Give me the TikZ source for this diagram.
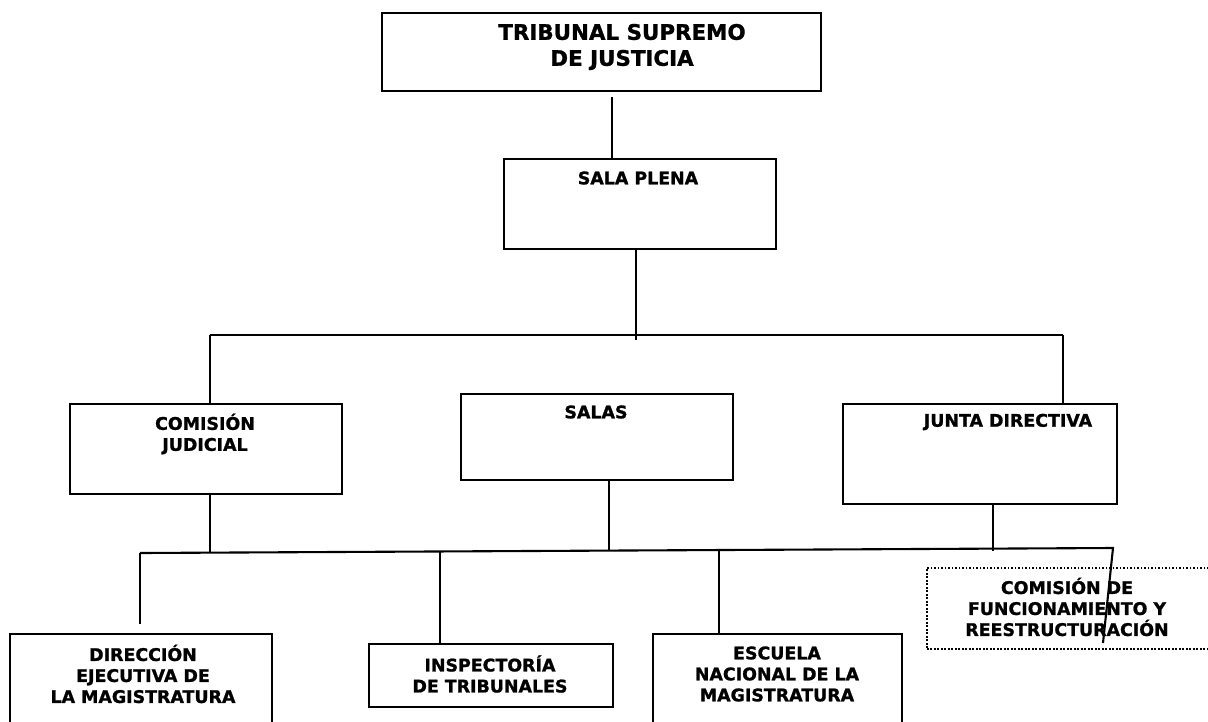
\documentclass[tikz,border=0pt]{standalone}
\usepackage{fontspec}
\setmainfont{DejaVu Sans}[BoldFeatures={FakeBold=1.2}]
\begin{document}
\begin{tikzpicture}[x=1pt,y=-1pt,
  box/.style={draw, line width=2.1pt, rectangle, inner sep=0pt, anchor=north west},
  dotbox/.style={draw, line width=1.8pt, dash pattern=on 1.8pt off 1.7pt, rectangle, inner sep=0pt, anchor=north west},
  conn/.style={line width=2.1pt},
  lbl/.style={font=\bfseries\fontsize{17.4}{21}\selectfont, align=center, inner sep=0pt},
  big/.style={font=\bfseries\fontsize{21.4}{26}\selectfont, align=center, inner sep=0pt}]
\path[use as bounding box] (0,0) rectangle (1208,721);
\clip (0,0) rectangle (1208,721);

% boxes
\node[box, minimum width=439pt, minimum height=78pt] (tsj) at (381,12) {};
\node[big] (tsjt) at (622,47) {TRIBUNAL SUPREMO\\DE JUSTICIA};
\node[box, minimum width=272pt, minimum height=90pt] (sp) at (503,158) {};
\node[lbl] (spt) at (638,178) {SALA PLENA};
\node[box, minimum width=272pt, minimum height=90pt] (cj) at (69,403) {};
\node[lbl] (cjt) at (205,434) {COMISIÓN\\JUDICIAL};
\node[box, minimum width=272pt, minimum height=86pt] (sa) at (460,393) {};
\node[lbl] (sat) at (596,412) {SALAS};
\node[box, minimum width=274pt, minimum height=100pt] (jd) at (842,403) {};
\node[lbl] (jdt) at (1008,422) {JUNTA DIRECTIVA};
\node[box, minimum width=262pt, minimum height=110pt] (dea) at (9,633) {};
\node[lbl] (deat) at (143,674) {DIRECCIÓN\\EJECUTIVA DE\\LA MAGISTRATURA};
\node[box, minimum width=244pt, minimum height=63pt] (it) at (368,643) {};
\node[lbl] (itt) at (490,674) {INSPECTORÍA\\DE TRIBUNALES};
\node[box, minimum width=249pt, minimum height=110pt] (enm) at (652,633) {};
\node[lbl] (enmt) at (777,674) {ESCUELA\\NACIONAL DE LA\\MAGISTRATURA};
\node[dotbox, minimum width=300pt, minimum height=81pt] (cfr) at (926,567) {};
\node[lbl] (cfrt) at (1067,607) {COMISIÓN DE\\FUNCIONAMIENTO Y\\REESTRUCTURACIÓN};

% top connectors
\coordinate (a1) at (612,97);
\draw[conn] (a1) -- (a1 |- sp.north);
\coordinate (b1) at (636,340);
\draw[conn] (b1 |- sp.south) -- (b1);
\coordinate (bl) at (210,335);
\coordinate (br) at (1063,335);
\draw[conn] (bl) -- (br);
\draw[conn] (bl) -- (bl |- cj.north);
\draw[conn] (br) -- (br |- jd.north);

% lower connectors
\coordinate (cl) at (140,553);
\coordinate (cr) at (1113,548);
\coordinate (ce) at (1103,643);
\draw[conn] (cl) -- (cr) -- (ce);
\coordinate (d1) at (210,552.6);
\draw[conn] (d1 |- cj.south) -- (d1);
\coordinate (d2) at (609,550.8);
\draw[conn] (d2 |- sa.south) -- (d2);
\coordinate (d3) at (993,551);
\draw[conn] (d3 |- jd.south) -- (d3);
\coordinate (e1) at (140,624);
\draw[conn] (cl) -- (e1);
\coordinate (e2) at (440,551.5);
\draw[conn] (e2) -- (e2 |- it.north);
\coordinate (e3) at (719,550);
\draw[conn] (e3) -- (e3 |- enm.north);
\end{tikzpicture}
\end{document}
